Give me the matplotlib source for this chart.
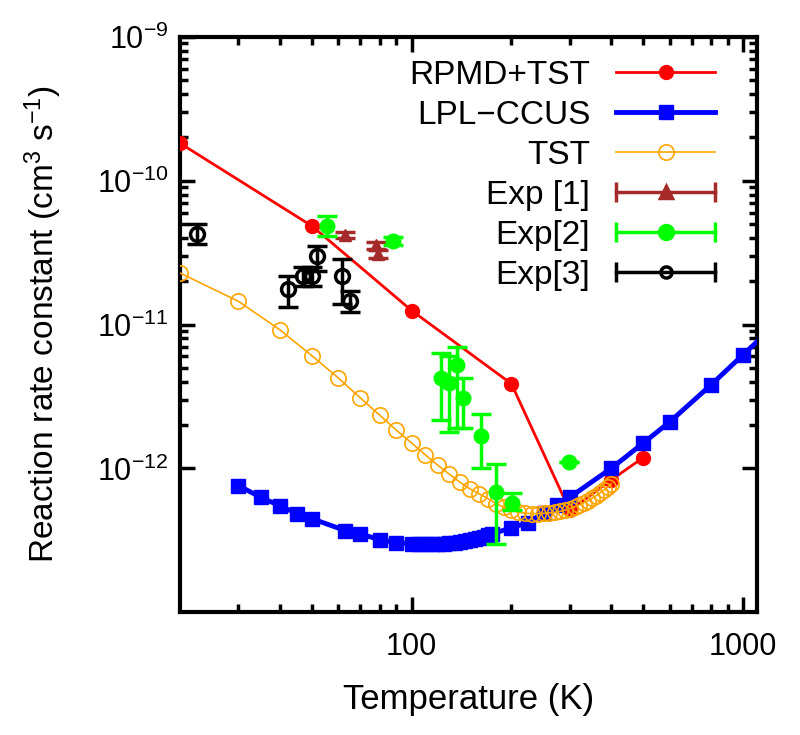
import matplotlib
matplotlib.use("Agg")
import matplotlib.pyplot as plt
from matplotlib.lines import Line2D
from matplotlib.legend_handler import HandlerLine2D, HandlerTuple
from matplotlib.ticker import FixedLocator, NullFormatter
import numpy as np

plt.rcParams['font.family'] = ['Liberation Sans', 'DejaVu Sans']
plt.rcParams['mathtext.default'] = 'regular'
plt.rcParams['font.size'] = 22

# RPMD+TST
rpmd_T = [20, 50, 100, 200, 300, 400, 500]
rpmd_k = [1.82e-10, 4.84e-11, 1.25e-11, 3.87e-12, 5.1e-13, 8.3e-13, 1.19e-12]

# LPL-CCUS
lpl_T = [30, 35, 40, 45, 50, 63, 70, 80, 90, 100, 105, 110, 115, 120, 125, 130,
         135, 140, 145, 150, 155, 160, 165, 170, 175, 200, 225, 250, 275, 300,
         400, 500, 600, 800, 1000, 1200]
lpl_k = [7.6e-13, 6.3e-13, 5.5e-13, 4.85e-13, 4.47e-13, 3.7e-13, 3.5e-13, 3.2e-13,
         3.04e-13, 3.0e-13, 2.98e-13, 2.97e-13, 2.97e-13, 2.98e-13, 3.0e-13, 3.02e-13,
         3.05e-13, 3.08e-13, 3.12e-13, 3.17e-13, 3.22e-13, 3.28e-13, 3.35e-13, 3.42e-13,
         3.5e-13, 3.87e-13, 4.2e-13, 4.9e-13, 5.6e-13, 6.3e-13,
         1.0e-12, 1.5e-12, 2.1e-12, 3.8e-12, 6.17e-12, 9.1e-12]

# TST
tst_T = [20, 30, 40, 50, 60, 70, 80, 90, 100, 110, 120, 130, 140, 150, 160, 170,
         180, 190, 200, 210, 220, 230, 240, 250, 260, 270, 280, 290, 300, 310, 320,
         330, 340, 350, 360, 370, 380, 390, 400]
tst_k = [2.28e-11, 1.45e-11, 9.2e-12, 6.07e-12, 4.26e-12, 3.09e-12, 2.35e-12, 1.84e-12,
         1.5e-12, 1.24e-12, 1.05e-12, 9.1e-13, 8.0e-13, 7.2e-13, 6.65e-13, 6.15e-13,
         5.7e-13, 5.35e-13, 5.1e-13, 4.95e-13, 4.88e-13, 4.85e-13, 4.85e-13, 4.87e-13,
         4.9e-13, 4.95e-13, 5.02e-13, 5.12e-13, 5.25e-13, 5.4e-13, 5.55e-13, 5.75e-13,
         5.95e-13, 6.2e-13, 6.45e-13, 6.75e-13, 7.05e-13, 7.4e-13, 7.8e-13]

# Exp [1]
exp1_T = [63, 78, 79]
exp1_k = [4.2e-11, 3.55e-11, 3.1e-11]
exp1_lo = [0.2e-11, 0.2e-11, 0.2e-11]
exp1_hi = [0.2e-11, 0.2e-11, 0.2e-11]

# Exp[2]
exp2_T = [55.5, 87.7, 123, 130, 137.5, 142.5, 162, 180, 201, 298]
exp2_k = [4.84e-11, 3.8e-11, 4.26e-12, 3.92e-12, 5.25e-12, 3.09e-12, 1.68e-12,
          6.8e-13, 5.78e-13, 1.1e-12]
exp2_lo = [0.72e-11, 0.25e-11, 2.09e-12, 2.13e-12, 3.35e-12, 1.19e-12, 0.68e-12,
           3.8e-13, 0.68e-13, 0.0]
exp2_hi = [0.85e-11, 0.25e-11, 2.11e-12, 2.08e-12, 1.75e-12, 1.17e-12, 0.7e-12,
           4.0e-13, 0.92e-13, 0.0]

# Exp[3]
exp3_T = [22.5, 42.3, 47, 50, 51.8, 61.5, 65]
exp3_k = [4.28e-11, 1.76e-11, 2.17e-11, 2.17e-11, 2.99e-11, 2.17e-11, 1.45e-11]
exp3_lo = [0.68e-11, 0.44e-11, 0.32e-11, 0.32e-11, 0.65e-11, 0.79e-11, 0.22e-11]
exp3_hi = [0.72e-11, 0.41e-11, 0.33e-11, 0.33e-11, 0.51e-11, 0.68e-11, 0.25e-11]

fig = plt.figure(figsize=(8, 7.35), dpi=100)
ax = fig.add_axes([0.225, 0.167, 0.721, 0.783])

ax.plot(rpmd_T, rpmd_k, '-o', color='#ff0000', lw=2, ms=10, zorder=3)
ax.plot(lpl_T, lpl_k, '-s', color='#0000ff', lw=3.5, ms=10, zorder=4)
ax.plot(tst_T, tst_k, '-o', color='#ffa500', lw=1.2, ms=11, mfc='none', mew=1.2, zorder=5)
ax.errorbar(exp1_T, exp1_k, yerr=[exp1_lo, exp1_hi], fmt='^', color='#a52a2a',
            ms=9, elinewidth=2.5, capsize=7, capthick=2.5, zorder=6)
ax.errorbar(exp2_T, exp2_k, yerr=[exp2_lo, exp2_hi], fmt='o', color='#00ff00',
            ms=10.5, elinewidth=2.5, capsize=7, capthick=2.5, zorder=7)
ax.errorbar(exp3_T, exp3_k, yerr=[exp3_lo, exp3_hi], fmt='o', color='black', mfc='none',
            ms=10, mew=2.5, elinewidth=2.5, capsize=7, capthick=2.5, zorder=8)

ax.set_xscale('log')
ax.set_yscale('log')
ax.set_xlim(20, 1100)
ax.set_ylim(1e-13, 1e-9)

ax.set_xticks([100, 1000])
ax.set_xticklabels(['100', '1000'])
ax.xaxis.set_minor_locator(FixedLocator([30, 40, 50, 60, 70, 80, 90, 200, 300, 400,
                                         500, 600, 700, 800, 900]))
ax.xaxis.set_minor_formatter(NullFormatter())
ax.set_yticks([1e-12, 1e-11, 1e-10, 1e-9])
ax.set_yticklabels(['$10^{-12}$', '$10^{-11}$', '$10^{-10}$', '$10^{-9}$'])
yminor = [m * 10.0 ** e for e in (-12, -11, -10) for m in range(2, 10)]
ax.yaxis.set_minor_locator(FixedLocator(yminor))
ax.yaxis.set_minor_formatter(NullFormatter())

ax.tick_params(which='both', direction='in', top=True, right=True, width=2.5)
ax.tick_params(which='major', length=11)
ax.tick_params(which='minor', length=6)
ax.tick_params(axis='x', which='major', pad=14)
ax.tick_params(axis='y', which='major', pad=8)
for s in ax.spines.values():
    s.set_linewidth(3)

ax.set_xlabel('Temperature (K)', fontsize=25, labelpad=15)
ax.set_ylabel('Reaction rate constant (cm$^3$ s$^{-1}$)', fontsize=24, labelpad=24)

# legend handles
h_rpmd = Line2D([], [], color='#ff0000', lw=2, marker='o', ms=10)
h_lpl = Line2D([], [], color='#0000ff', lw=3.5, marker='s', ms=10)
h_tst = Line2D([], [], color='#ffa500', lw=1.2, marker='o', ms=11, mfc='none', mew=1.2)
handles = [h_rpmd, h_lpl, h_tst]
hmap = {}
for c, m, ms, mfc in [('#a52a2a', '^', 9, '#a52a2a'), ('#00ff00', 'o', 10, '#00ff00'),
                      ('black', 'o', 8, 'none')]:
    caps = Line2D([], [], color=c, lw=2.5, marker='|', ms=14, mew=2.5)
    mid = Line2D([], [], color=c, lw=0, marker=m, ms=ms, mfc=mfc, mew=2.5)
    hmap[caps] = HandlerLine2D(numpoints=2, marker_pad=0)
    handles.append((caps, mid))
hmap[tuple] = HandlerTuple(ndivide=1)
labels = ['RPMD+TST', 'LPL\u2212CCUS', 'TST', 'Exp [1]', 'Exp[2]', 'Exp[3]']
ax.legend(handles, labels, handler_map=hmap, loc='upper right', frameon=False,
          markerfirst=False, handlelength=2.95, handletextpad=0.78, labelspacing=0.27,
          borderpad=0, borderaxespad=0, bbox_to_anchor=(0.927, 0.96), fontsize=24)

fig.savefig('out.png', dpi=100)
